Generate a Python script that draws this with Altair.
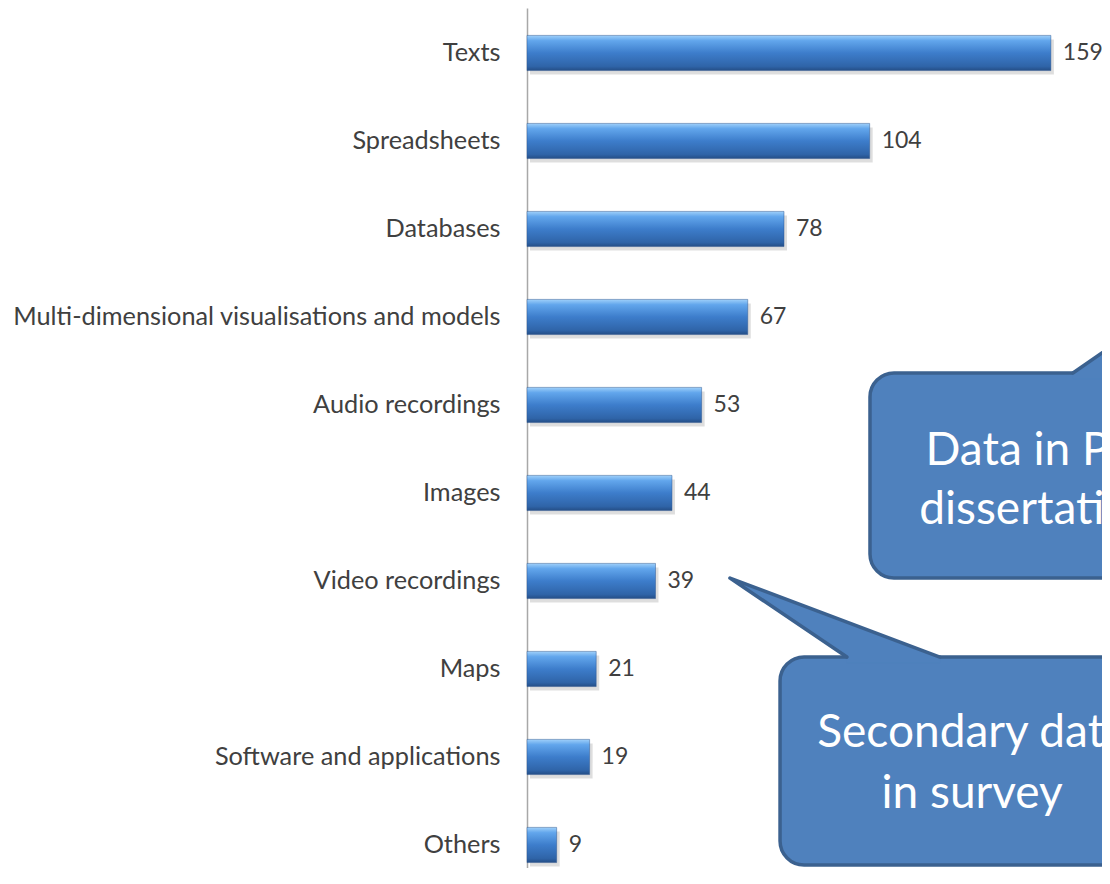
import altair as alt
import pandas as pd

# ---- data ----
categories = [
    "Texts", "Spreadsheets", "Databases",
    "Multi-dimensional visualisations and models", "Audio recordings",
    "Images", "Video recordings", "Maps", "Software and applications", "Others",
]
counts = [159, 104, 78, 67, 53, 44, 39, 21, 19, 9]

# ---- callout annotations (x in count units, y in row units: 0 = first bar, 9 = last) ----
callout_text = ["Data in PhD", "dissertations", "Secondary data", "in survey"]
callout_text_x = [158.0, 158.0, 135.1, 135.1]
callout_text_y = [4.68, 5.35, 7.886, 8.58]

box_x1 = [104.1, 76.8]
box_x2 = [240, 240]
box_y1 = [3.636, 6.864]
box_y2 = [5.966, 9.227]

tail_id = [1, 1, 1, 1, 1, 2, 2, 2, 2, 2]
tail_x = [165.7, 192.1, 189.0, 189.0, 165.7, 97.1, 61.6, 125.3, 125.3, 97.1]
tail_y = [3.636, 2.955, 3.636, 3.70, 3.70, 6.864, 5.966, 6.864, 6.93, 6.93]
tail_edge = [True, True, True, False, False, True, True, True, False, False]

bars = pd.DataFrame({"category": categories, "count": counts})
boxes = pd.DataFrame({"x1": box_x1, "x2": box_x2, "y1": box_y1, "y2": box_y2})
tails = pd.DataFrame({"id": tail_id, "x": tail_x, "y": tail_y, "edge": tail_edge,
                      "o": list(range(len(tail_x)))})
texts = pd.DataFrame({"t": callout_text, "x": callout_text_x, "y": callout_text_y})

FONT = "Lato"
xscale = alt.Scale(domain=[0, 173], nice=False, zero=True)
yband = alt.Scale(paddingInner=0.6, paddingOuter=0.1864, align=0.835)
yrow = alt.Scale(domain=[-0.511, 9.261], nice=False, zero=False, reverse=True)

grad = alt.Gradient(
    gradient="linear", x1=0, x2=0, y1=0, y2=1,
    stops=[
        alt.GradientStop(color="#9fd0fa", offset=0.0),
        alt.GradientStop(color="#62a6ec", offset=0.15),
        alt.GradientStop(color="#3d7dcb", offset=0.5),
        alt.GradientStop(color="#2f64a8", offset=0.88),
        alt.GradientStop(color="#244e86", offset=1.0),
    ],
)

base = alt.Chart(bars)
yenc = alt.Y(
    "category:N", sort=None, scale=yband,
    axis=alt.Axis(title=None, labelFont=FONT, labelFontSize=25.3, labelColor="#404040",
                  ticks=False, tickSize=0, labelPadding=27, labelLimit=700,
                  domainColor="#a8a8a8", domainWidth=1.5, grid=False),
)
xenc = alt.X("count:Q", scale=xscale, axis=None)

shadow = base.mark_bar(color="#b5b5b5", opacity=0.45, xOffset=3, yOffset=4).encode(x=xenc, y=yenc)
barl = base.mark_bar(color=grad, stroke="#2a5590", strokeWidth=0.8, strokeOpacity=0.6).encode(x=xenc, y=yenc)
labels = base.mark_text(align="left", baseline="middle", dx=12, font=FONT, fontSize=23,
                        color="#404040").encode(x=xenc, y=yenc, text="count:Q")

main = alt.layer(shadow, barl, labels)

yq = lambda f: alt.Y(f, scale=yrow, axis=None)
boxl = alt.Chart(boxes).mark_rect(cornerRadius=24, fill="#4f81bd", stroke="#3b618f",
                                 strokeWidth=3.5).encode(
    x=alt.X("x1:Q", scale=xscale, axis=None), x2="x2:Q",
    y=yq("y1:Q"), y2="y2:Q")
tailfill = alt.Chart(tails).mark_line(filled=True, fill="#4f81bd", stroke="#4f81bd",
                                     strokeWidth=0.5, interpolate="linear").encode(
    x=alt.X("x:Q", scale=xscale, axis=None), y=yq("y:Q"), detail="id:N", order="o:Q")
tailedge = alt.Chart(tails).transform_filter("datum.edge").mark_line(
    stroke="#3b618f", strokeWidth=3.5, strokeJoin="round", strokeCap="round").encode(
    x=alt.X("x:Q", scale=xscale, axis=None), y=yq("y:Q"), detail="id:N", order="o:Q")
textl = alt.Chart(texts).mark_text(font=FONT, fontSize=46, color="white", align="center",
                                   baseline="alphabetic").encode(
    x=alt.X("x:Q", scale=xscale, axis=None), y=yq("y:Q"), text="t:N")

ann = alt.layer(boxl, tailfill, tailedge, textl)

chart = alt.layer(main, ann).resolve_scale(y="independent").properties(
    width=570, height=860,
    autosize=alt.AutoSizeParams(type="none"),
    padding={"left": 519, "top": 0, "right": 5, "bottom": 0},
).configure_view(stroke=None)

chart.save("out.html", embed_options={"renderer": "svg", "actions": False})
